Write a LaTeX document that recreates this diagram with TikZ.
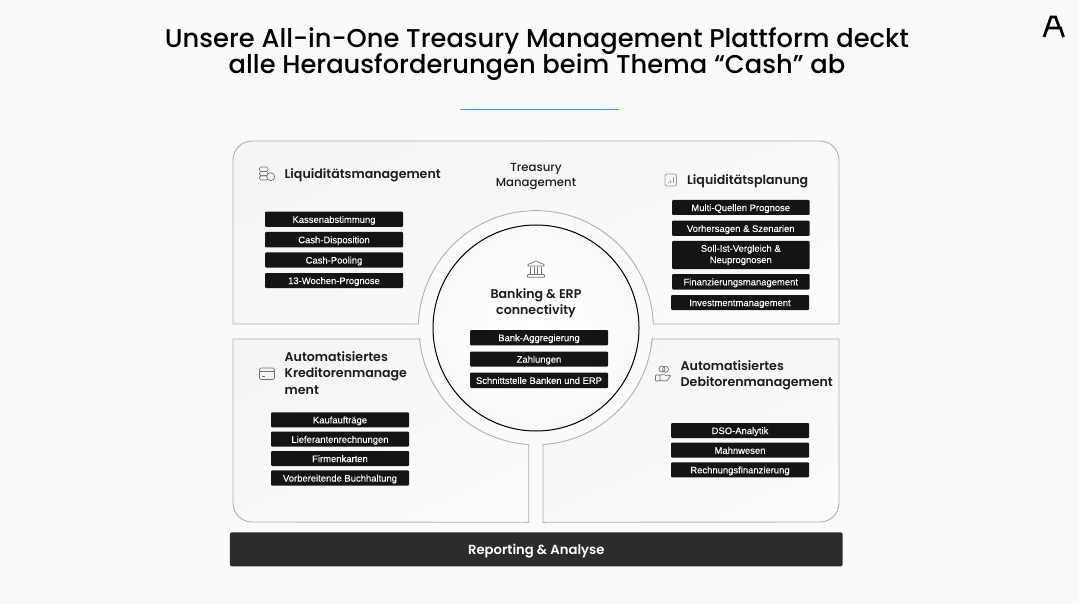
\documentclass[tikz,border=0pt]{standalone}
\usepackage{fontspec}
\setmainfont{Liberation Sans}
\newfontfamily\headfont[UprightFont=* Medium,BoldFont=* SemiBold]{Poppins}
\usetikzlibrary{calc}
\lineskiplimit=-100pt
\normallineskiplimit=-100pt
\definecolor{bgc}{HTML}{FAFAFC}
\definecolor{pillc}{HTML}{141414}
\definecolor{edgec}{HTML}{B0B0B2}
\definecolor{barc}{HTML}{2C2C2C}
\definecolor{headc}{HTML}{1C1C1C}
\definecolor{iconc}{HTML}{707070}
\definecolor{accentblue}{rgb}{0.25,0.58,1.0}
\definecolor{panc}{HTML}{F5F5F6}
\tikzset{
  panel/.style={draw=edgec,line width=0.9pt,top color=panc,bottom color=white!60!panc,shading angle=25},
  pill/.style={fill=pillc,draw=none,rounded corners=1pt,text=white,font=\fontsize{9.45}{11.4}\selectfont\addfontfeature{FakeBold=0.15},align=center,inner sep=0pt},
  pillone/.style={pill,text height=7.6pt,text depth=0.5pt},
  head/.style={font=\headfont\bfseries\fontsize{12.6}{16.4}\selectfont,text=headc,align=left,inner sep=0pt},
  icn/.style={draw=iconc,line width=0.7pt,fill=none},
}
\newcommand{\pillbox}[6]{\node[pillone,minimum width=#3-#2,minimum height=#5-#4] (#1) at ({(#2+#3)/2},{(#4+#5)/2}) {#6};}
\begin{document}
\begin{tikzpicture}[x=1pt,y=-1pt]
\useasboundingbox (0,0) rectangle (1079,604);
\fill[bgc] (0,0) rectangle (1079,604);
% title
\node[font=\headfont\fontsize{25.75}{26}\selectfont,text=black,align=center,inner sep=0pt] (title) at (537,54) {Unsere All-in-One Treasury Management Plattform deckt\\alle Herausforderungen beim Thema “Cash” ab};
\fill[accentblue] (460,108.9) rectangle (619,110.3);
% logo
\draw[black,line width=2.8pt,miter limit=10] (1044,37) -- (1051,17) -- (1055.5,17) -- (1059.5,28);
\draw[black,line width=2.8pt,miter limit=10] (1047.5,28) -- (1060.5,28) -- (1063.5,37);
% panels
\draw[panel] (418.7,324) -- (233,324) -- (233,160) arc[start angle=180,end angle=270,radius=19] -- (820,141) arc[start angle=270,end angle=360,radius=19] -- (839,324) -- (653.3,324) arc[start angle=-2,end angle=-178,radius=117.5,] -- cycle;
\draw[panel] (419.3,339) -- (233,339) -- (233,503) arc[start angle=180,end angle=90,radius=19] -- (528.7,522.3) -- (528.7,444.5) arc[start angle=93.6,end angle=174.6,radius=117] -- cycle;
\draw[panel] (652.5,339) -- (839,339) -- (839,503) arc[start angle=0,end angle=90,radius=19] -- (543,522.3) -- (543,444.5) arc[start angle=86.4,end angle=5.4,radius=117] -- cycle;
% central circle
\filldraw[draw=black,line width=1pt,inner color=white,outer color=black!2] (536,328) circle[radius=103];
% bar
\node[fill=barc,rounded corners=2pt,minimum width=612.7pt,minimum height=34pt,inner sep=0pt,text=white,text height=10.8pt,text depth=0.4pt,font=\headfont\bfseries\fontsize{13.2}{15}\selectfont] (bar) at (536.3,549.3) {Reporting \& Analyse};
% headings
\node[head,anchor=west] (h1) at (284.5,175.5) {Liquiditätsmanagement};
\node[head,anchor=west] (h2) at (687,181.5) {Liquiditätsplanung};
\node[head,anchor=north west] (h3) at (284.5,351.5) {Automatisiertes\\Kreditorenmanage\\ment};
\node[head,anchor=west] (h4) at (680.5,375.5) {Automatisiertes\\Debitorenmanagement};
\node[head,align=center,font=\headfont\fontsize{11.7}{15}\selectfont] (h5) at (536,176.5) {Treasury\\Management};
\node[head,align=center] (h6) at (536,303) {Banking \& ERP\\connectivity};
% pills
\pillbox{a1}{265}{403}{211.7}{226.9}{Kassenabstimmung}
\pillbox{a2}{265}{403}{232}{247.3}{Cash-Disposition}
\pillbox{a3}{265}{403}{252.5}{267.5}{Cash-Pooling}
\pillbox{a4}{265}{403}{273}{288}{13-Wochen-Prognose}
\pillbox{b1}{672}{809.5}{200}{215}{Multi-Quellen Prognose}
\pillbox{b2}{672}{809.5}{220.7}{236}{Vorhersagen \& Szenarien}
\node[pill,minimum width=137.5pt,minimum height=28pt] (b3) at (740.75,255) {Soll-Ist-Vergleich \&\\Neuprognosen};
\pillbox{b4}{672}{809.5}{274}{289.5}{Finanzierungsmanagement}
\pillbox{b5}{671}{809}{295}{310}{Investmentmanagement}
\pillbox{c1}{470}{608}{330}{345.3}{Bank-Aggregierung}
\pillbox{c2}{470}{608}{351.7}{366.5}{Zahlungen}
\pillbox{c3}{470}{608}{372.7}{388}{Schnittstelle Banken und ERP}
\pillbox{d1}{271}{409}{412.3}{427.3}{Kaufaufträge}
\pillbox{d2}{271}{409}{431.7}{446.7}{Lieferantenrechnungen}
\pillbox{d3}{271}{409}{451}{466}{Firmenkarten}
\pillbox{d4}{271}{409}{470.3}{485.7}{Vorbereitende Buchhaltung}
\pillbox{e1}{671}{809}{423}{438}{DSO-Analytik}
\pillbox{e2}{671}{809}{442.7}{457.7}{Mahnwesen}
\pillbox{e3}{671}{809}{462.3}{477.3}{Rechnungsfinanzierung}
% icons: coins
\draw[icn,rounded corners=1.5pt] (259.5,167) rectangle (268,171.5);
\draw[icn,rounded corners=1.5pt] (259.5,171.5) rectangle (268,175.7);
\draw[icn,rounded corners=1.5pt] (259.5,175.7) rectangle (268,180);
\draw[icn,fill=panc] (270.7,176.7) circle[radius=4];
% card
\draw[icn,rounded corners=1.5pt] (259.5,368) rectangle (274.5,379.5);
\draw[icn] (259.5,371.5) -- (274.5,371.5) (262,376) -- (265,376);
% bars
\draw[icn,rounded corners=2pt,draw=black!40] (665,174) rectangle (676.5,186);
\draw[icn,draw=black!40] (668,183.5) -- (668,182.5) (670.7,183.5) -- (670.7,180.5) (673.5,183.5) -- (673.5,177.5);
% bank
\draw[icn,line join=round] (528,266) -- (528,264.5) -- (536,261) -- (544,264.5) -- (544,266) -- cycle;
\draw[icn,rounded corners=0.6pt] (527.5,274.5) rectangle (544.5,277.3);
\draw[icn] (530.5,266.5) -- (530.5,274.5) (534.5,266.5) -- (534.5,274.5) (537.5,266.5) -- (537.5,274.5) (541.5,266.5) -- (541.5,274.5);
% hand
\draw[icn] (662,369) circle[radius=3] (665.5,369.3) circle[radius=3];
\draw[icn,rounded corners=0.8pt] (655.5,375) -- (660,375) -- (660,381) -- (655.5,381) -- cycle;
\draw[icn,rounded corners=1pt] (660,375) -- (664,374.5) -- (667,376) -- (671,375) -- (667,381) -- (660,380.5);
\end{tikzpicture}
\end{document}
